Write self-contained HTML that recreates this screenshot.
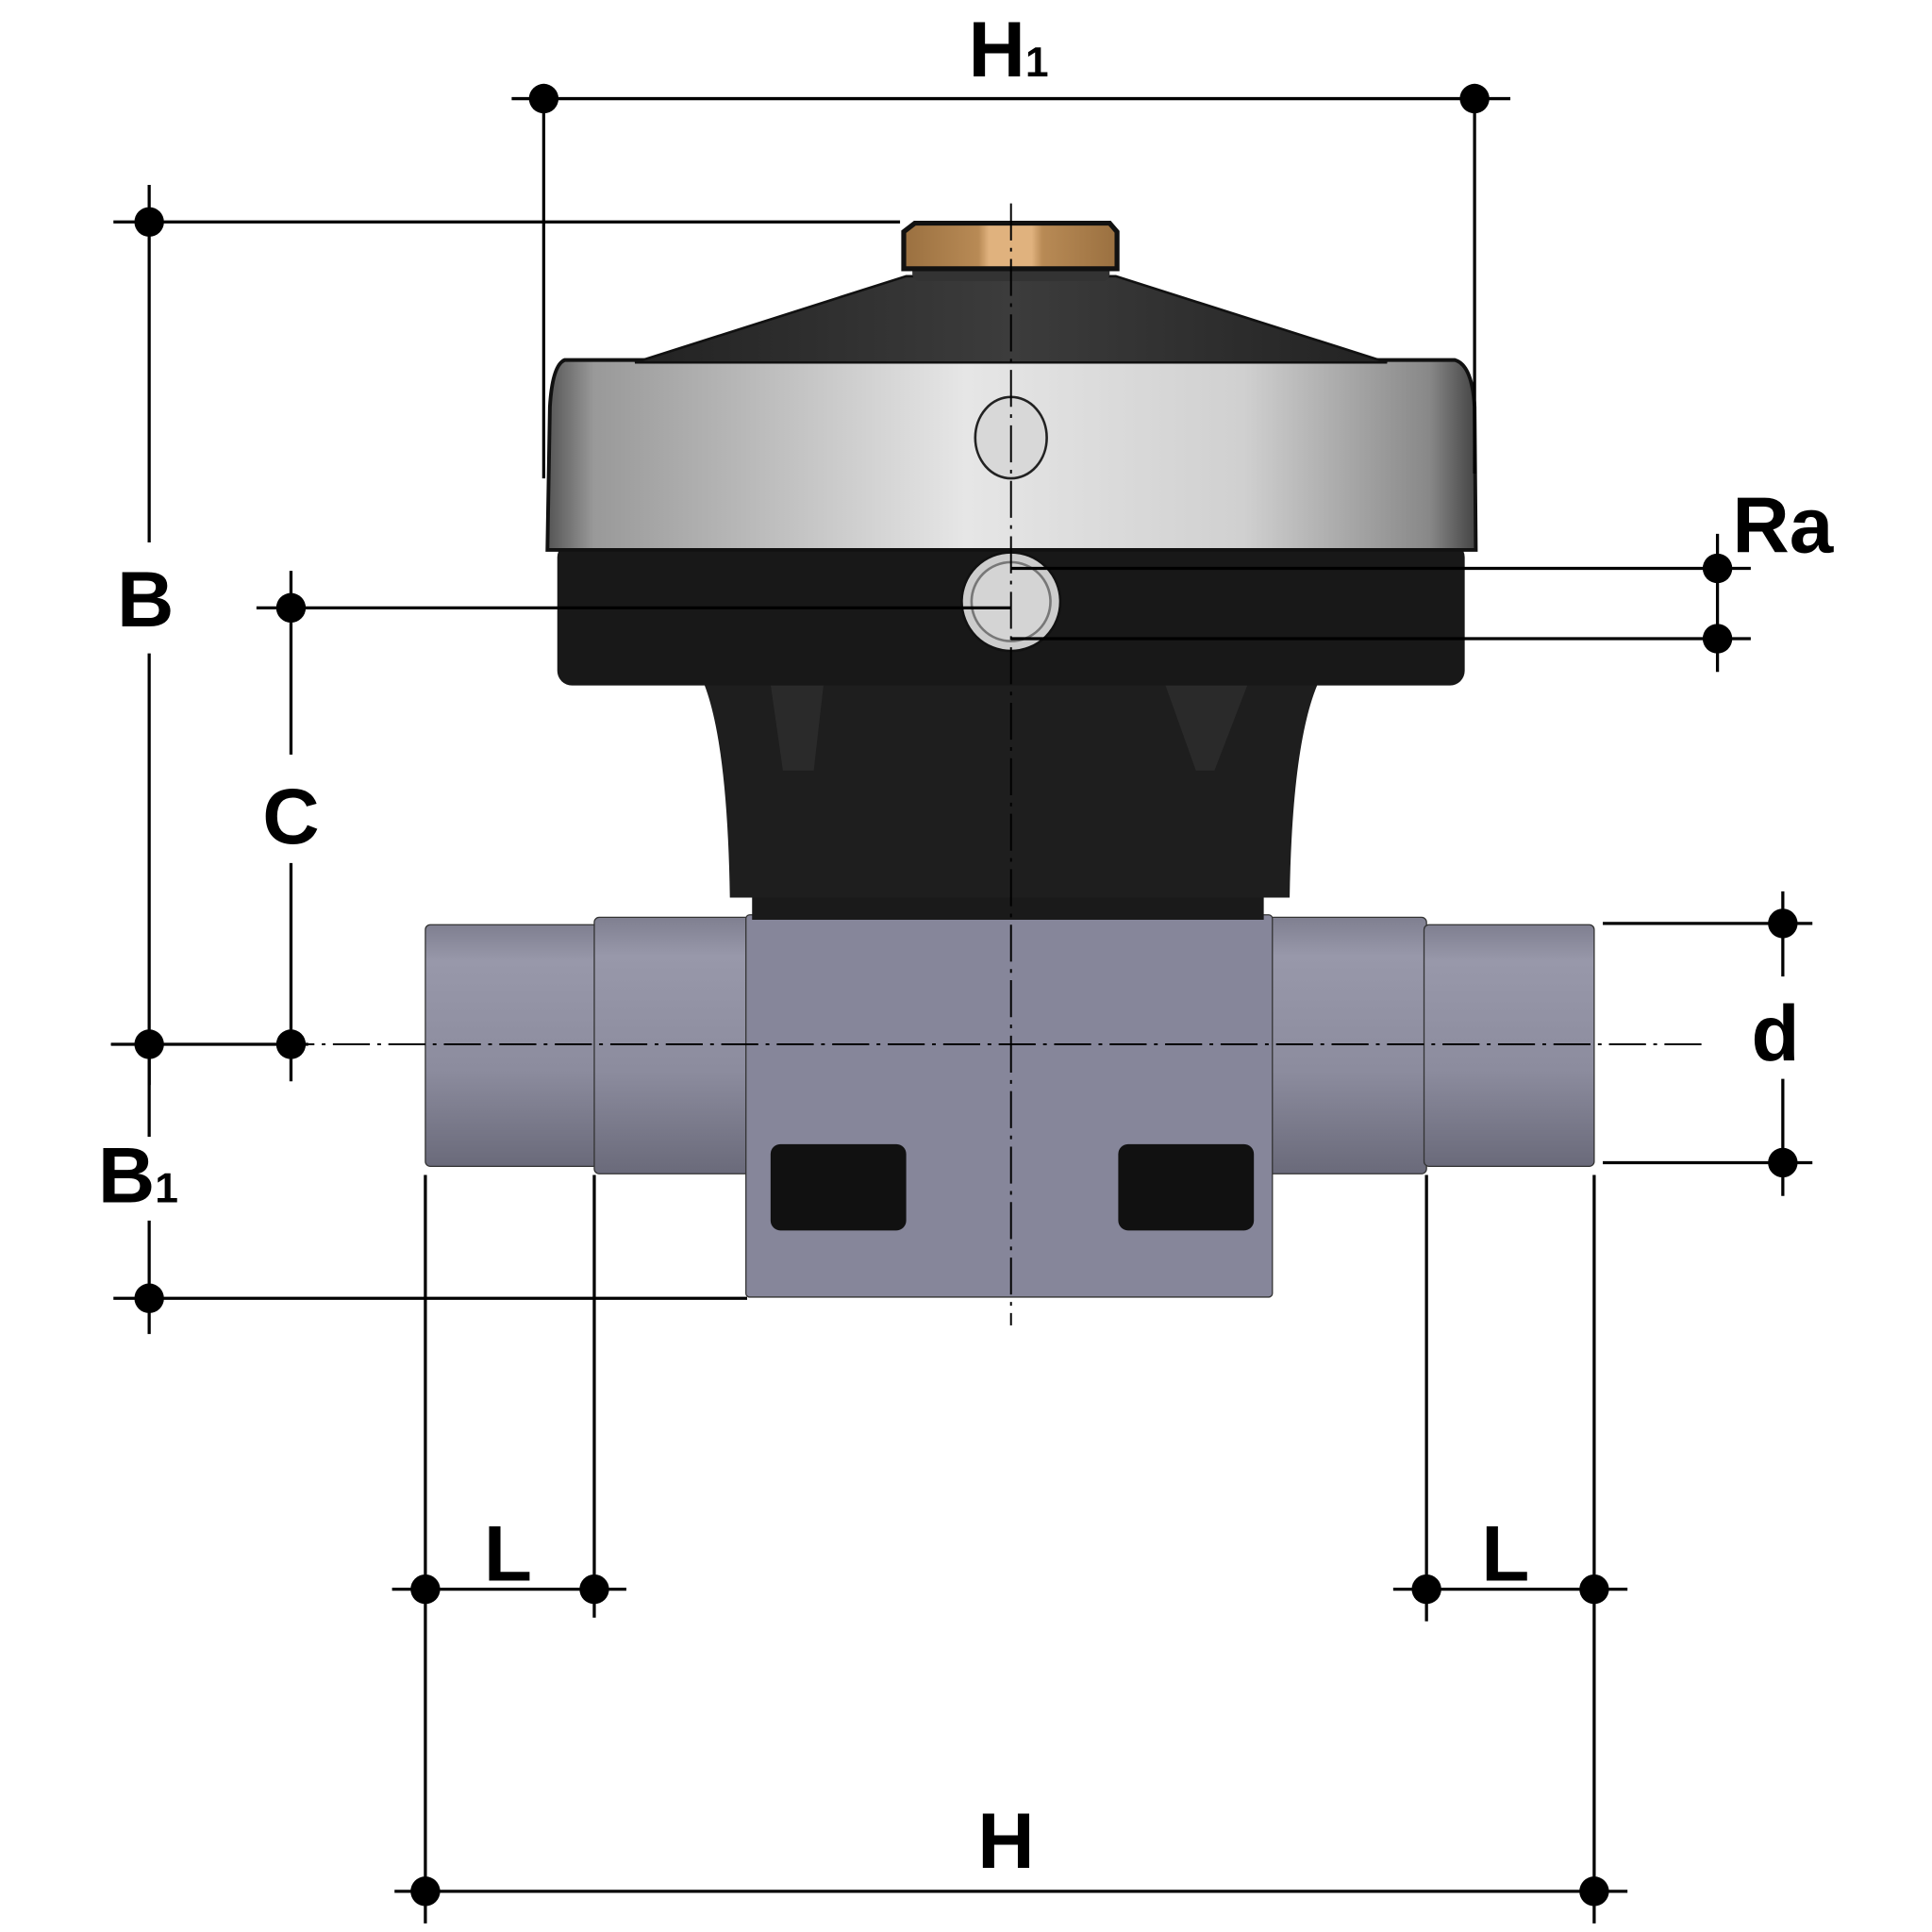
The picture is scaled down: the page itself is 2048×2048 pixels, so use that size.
<!DOCTYPE html>
<html><head><style>html,body{margin:0;padding:0;background:#fff}svg{display:block}</style></head><body>
<svg width="2048" height="2048" viewBox="0 0 1567 1567" xmlns="http://www.w3.org/2000/svg">
<defs>
<linearGradient id="pipe" x1="0" y1="0" x2="0" y2="1">
<stop offset="0" stop-color="#7f7f90"/><stop offset="0.15" stop-color="#9898aa"/><stop offset="0.6" stop-color="#8c8c9e"/><stop offset="1" stop-color="#6a6a7a"/></linearGradient>
<linearGradient id="silver" x1="0" y1="0" x2="1" y2="0">
<stop offset="0" stop-color="#555"/><stop offset="0.05" stop-color="#999"/><stop offset="0.45" stop-color="#e6e6e6"/><stop offset="0.75" stop-color="#d0d0d0"/><stop offset="0.95" stop-color="#888"/><stop offset="1" stop-color="#444"/></linearGradient>
<linearGradient id="dome" x1="0" y1="0" x2="1" y2="0">
<stop offset="0" stop-color="#222"/><stop offset="0.5" stop-color="#3c3c3c"/><stop offset="1" stop-color="#222"/></linearGradient>
<linearGradient id="brass" x1="0" y1="0" x2="1" y2="0">
<stop offset="0" stop-color="#9a7040"/><stop offset="0.35" stop-color="#b88a55"/><stop offset="0.4" stop-color="#e0b27e"/><stop offset="0.6" stop-color="#e0b27e"/><stop offset="0.65" stop-color="#b88a55"/><stop offset="1" stop-color="#9a7040"/></linearGradient>
</defs>

<rect x="345" y="750" width="140" height="196" rx="4" fill="url(#pipe)" stroke="#333" stroke-width="1"/>
<rect x="482" y="744" width="130" height="208" rx="4" fill="url(#pipe)" stroke="#333" stroke-width="1"/>
<rect x="1027" y="744" width="130" height="208" rx="4" fill="url(#pipe)" stroke="#333" stroke-width="1"/>
<rect x="1155" y="750" width="138" height="196" rx="4" fill="url(#pipe)" stroke="#333" stroke-width="1"/>
<rect x="605" y="742" width="427" height="310" rx="3" fill="#86869a" stroke="#333" stroke-width="1"/>
<rect x="625" y="928" width="110" height="70" rx="8" fill="#111"/>
<rect x="907" y="928" width="110" height="70" rx="8" fill="#111"/>

<rect x="610" y="722" width="415" height="24" fill="#1a1a1a"/>
<path d="M570 552 Q590 600 592 728 L1046 728 Q1048 600 1070 552 Z" fill="#1e1e1e"/>
<path d="M625 555 L668 555 L660 625 L635 625 Z" fill="#2a2a2a"/>
<path d="M945 555 L1012 555 L985 625 L970 625 Z" fill="#2a2a2a"/>
<rect x="452" y="440" width="736" height="116" rx="12" fill="#181818"/>
<path d="M458 292 L1180 292 Q1194 296 1196 330 L1197 446 L444 446 L446 330 Q448 296 458 292 Z" fill="url(#silver)" stroke="#111" stroke-width="3"/>
<path d="M515 294 L735 224 L905 224 L1125 294 Z" fill="url(#dome)" stroke="#111" stroke-width="2"/>
<rect x="740" y="210" width="160" height="18" rx="6" fill="#333"/>
<path d="M742 181 L900 181 L906 188 L906 218 L733 218 L733 188 Z" fill="url(#brass)" stroke="#111" stroke-width="4"/>
<ellipse cx="820" cy="355" rx="29" ry="33" fill="#d8d8d8" stroke="#222" stroke-width="2"/>
<ellipse cx="820" cy="488" rx="40" ry="40" fill="#ccc" stroke="#111" stroke-width="2"/>
<ellipse cx="820" cy="488" rx="32" ry="32" fill="#d4d4d4" stroke="#777" stroke-width="2"/>

<g stroke="#000" stroke-width="1.5" stroke-dasharray="30,6,3,6" fill="none">
<line x1="820" y1="165" x2="820" y2="1075"/>
<line x1="90" y1="847" x2="1380" y2="847"/>
</g>

<g stroke="#000" stroke-width="2.5" fill="none">
<line x1="415" y1="80" x2="1225" y2="80"/>
<line x1="441" y1="68" x2="441" y2="388"/>
<line x1="1196" y1="68" x2="1196" y2="384"/>
<line x1="92" y1="180" x2="730" y2="180"/>
<line x1="121" y1="150" x2="121" y2="440"/>
<line x1="121" y1="530" x2="121" y2="880"/>
<line x1="90" y1="847" x2="250" y2="847"/>
<line x1="208" y1="493" x2="820" y2="493"/>
<line x1="236" y1="463" x2="236" y2="612"/>
<line x1="236" y1="700" x2="236" y2="877"/>
<line x1="121" y1="858" x2="121" y2="922"/>
<line x1="121" y1="990" x2="121" y2="1082"/>
<line x1="92" y1="1053" x2="606" y2="1053"/>
<line x1="820" y1="461" x2="1420" y2="461"/>
<line x1="820" y1="518" x2="1420" y2="518"/>
<line x1="1393" y1="433" x2="1393" y2="545"/>
<line x1="1300" y1="749" x2="1470" y2="749"/>
<line x1="1300" y1="943" x2="1470" y2="943"/>
<line x1="1446" y1="723" x2="1446" y2="792"/>
<line x1="1446" y1="875" x2="1446" y2="970"/>
<line x1="345" y1="953" x2="345" y2="1560"/>
<line x1="482" y1="953" x2="482" y2="1312"/>
<line x1="318" y1="1289" x2="508" y2="1289"/>
<line x1="1157" y1="953" x2="1157" y2="1315"/>
<line x1="1293" y1="953" x2="1293" y2="1560"/>
<line x1="1130" y1="1289" x2="1320" y2="1289"/>
<line x1="320" y1="1534" x2="1320" y2="1534"/>
</g>
<g fill="#000">
<circle cx="441" cy="80" r="12"/><circle cx="1196" cy="80" r="12"/>
<circle cx="121" cy="180" r="12"/><circle cx="121" cy="847" r="12"/>
<circle cx="236" cy="493" r="12"/><circle cx="236" cy="847" r="12"/>
<circle cx="121" cy="1053" r="12"/>
<circle cx="1393" cy="461" r="12"/><circle cx="1393" cy="518" r="12"/>
<circle cx="1446" cy="749" r="12"/><circle cx="1446" cy="943" r="12"/>
<circle cx="345" cy="1289" r="12"/><circle cx="482" cy="1289" r="12"/>
<circle cx="1157" cy="1289" r="12"/><circle cx="1293" cy="1289" r="12"/>
<circle cx="345" cy="1534" r="12"/><circle cx="1293" cy="1534" r="12"/>
</g>

<g font-family="Liberation Sans, sans-serif" font-weight="bold" font-size="64" fill="#000" text-anchor="middle">
<text x="818" y="62">H<tspan font-size="34">1</tspan></text>
<text x="118" y="508">B</text>
<text x="236" y="684">C</text>
<text x="112" y="975">B<tspan font-size="34">1</tspan></text>
<text x="1446" y="448">Ra</text>
<text x="1440" y="860">d</text>
<text x="412" y="1282">L</text>
<text x="1221" y="1282">L</text>
<text x="816" y="1515">H</text>
</g>
</svg>
</body></html>
